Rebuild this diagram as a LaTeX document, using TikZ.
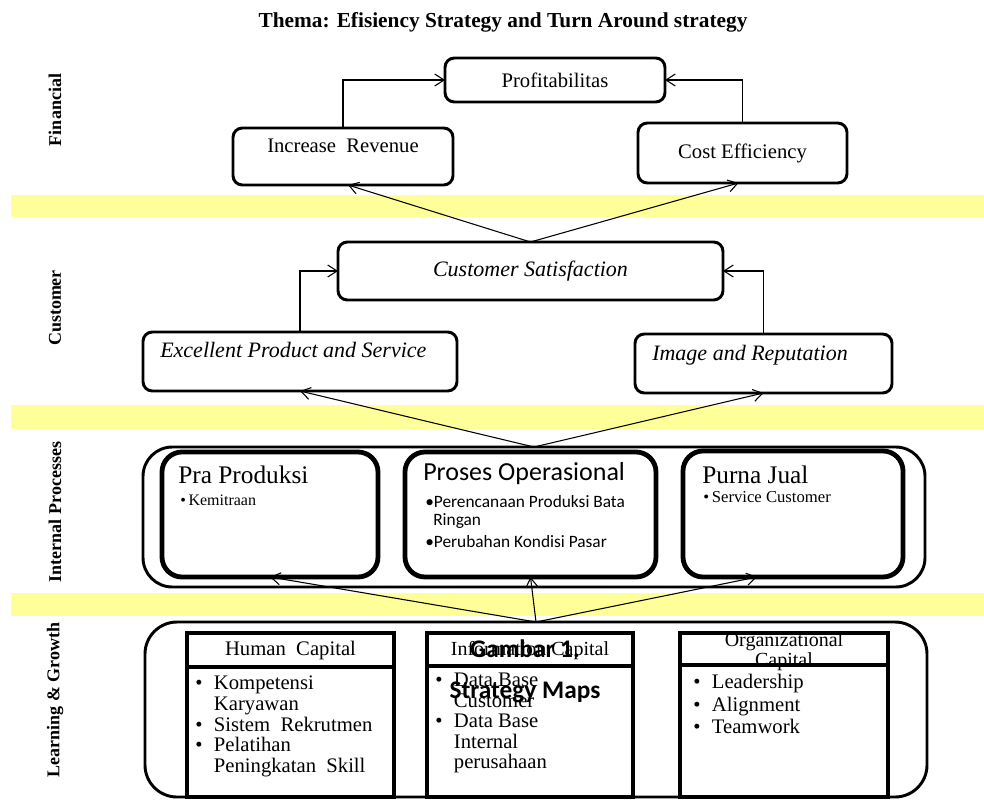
\documentclass[tikz,border=0pt]{standalone}
\usepackage{fontspec}
\setmainfont{Liberation Serif}
\newfontfamily\calibri{Carlito}
\usetikzlibrary{arrows.meta}
\definecolor{band}{RGB}{255,255,153}
\newlength\pxu
\setlength\pxu{0.75pt}
\newcommand\bul{\makebox[14pt][l]{\textbullet}}
\newcommand\cnt{\hspace*{14pt}}

\begin{document}
\begin{tikzpicture}[x=0.75pt, y=-0.75pt,
	>={Straight Barb[length=7pt,width=9pt]},
	link/.style={->, line width=0.8pt},
	goal/.style={draw, line width=2.2pt, rounded corners=7pt, fill=white, anchor=north west, inner sep=0pt, outer sep=0pt},
	proc/.style={draw, line width=3.6pt, rounded corners=15pt, fill=white, anchor=north west, inner sep=0pt, outer sep=0pt},
	frame/.style={draw, line width=2.2pt, anchor=north west, inner sep=0pt, outer sep=0pt},
	capbox/.style={draw, line width=2.4pt, fill=white, anchor=north west, inner sep=0pt, outer sep=0pt},
	capline/.style={line width=2.4pt},
	side/.style={rotate=90, font=\bfseries\fontsize{13.5}{16}\selectfont},
	fintxt/.style={font=\fontsize{15.5}{18}\selectfont},
	custxt/.style={font=\itshape\fontsize{16.5}{19}\selectfont},
	txt/.style={inner sep=0pt, anchor=base west}]
	\useasboundingbox (0,0) rectangle (984,799);
	\fill [white] (0,0) rectangle (984,799);
	\fill [band] (11,195) rectangle (984,217);
	\fill [band] (11,405) rectangle (984,429);
	\fill [band] (11,593) rectangle (984,616);

	\node [font=\bfseries\fontsize{16}{19}\selectfont, anchor=base] (title) at (503,28) {Thema: Efisiency Strategy and Turn Around strategy};
	\node [side] (fin-l) at (55,110) {Financial};
	\node [side] (cus-l) at (55,308) {Customer};
	\node [side] (int-l) at (55,512) {Internal Processes};
	\node [side] (lrn-l) at (55,700) {Learning \& Growth};

	% financial
	\node [goal, fintxt, minimum width=220\pxu, minimum height=44\pxu] (profit) at (445,58) {Profitabilitas};
	\node [goal, minimum width=220\pxu, minimum height=57\pxu] (revenue) at (233,128) {};
	\node [fintxt, anchor=base] (revenue-t) at (343,152) {Increase~~Revenue};
	\node [goal, fintxt, minimum width=209\pxu, minimum height=60\pxu] (cost) at (638,123) {Cost Efficiency};

	% customer
	\node [goal, custxt, minimum width=385\pxu, minimum height=58\pxu] (satisf) at (338,242) {Customer Satisfaction};
	\node [goal, minimum width=314\pxu, minimum height=59\pxu] (product) at (143,332) {};
	\node [txt, custxt] (product-t) at (160,357) {Excellent Product and Service};
	\node [goal, minimum width=257\pxu, minimum height=59\pxu] (image) at (635,334) {};
	\node [txt, custxt] (image-t) at (652,360) {Image and Reputation};

	% internal processes
	\node [frame, rounded corners=22pt, minimum width=782\pxu, minimum height=140\pxu] (internal) at (143,447) {};
	\node [proc, minimum width=216\pxu, minimum height=125\pxu] (pra) at (162,452) {};
	\node [proc, minimum width=251\pxu, minimum height=125\pxu] (proses) at (405,452) {};
	\node [proc, minimum width=220\pxu, minimum height=126\pxu] (purna) at (683,451) {};
	\node [txt, font=\fontsize{19}{22}\selectfont] (pra-t) at (178,483) {Pra Produksi};
	\node [txt, font=\fontsize{12}{14}\selectfont] (pra-b) at (180,505) {\textbullet\,Kemitraan};
	\node [txt, font=\calibri\fontsize{19.5}{22}\selectfont] (proses-t) at (423,480) {Proses Operasional};
	\node [inner sep=0pt, anchor=north west, align=left, font=\calibri\fontsize{13}{13.5}\selectfont] (proses-b) at (425,495)
		{\textbullet Perencanaan Produksi Bata\\\hspace*{6pt}Ringan\\[3pt]\textbullet Perubahan Kondisi Pasar};
	\node [txt, font=\fontsize{19}{22}\selectfont] (purna-t) at (702,483) {Purna Jual};
	\node [txt, font=\fontsize{12.5}{14}\selectfont] (purna-b) at (703,502) {\textbullet\,Service Customer};

	% learning and growth
	\node [frame, rounded corners=24pt, minimum width=782\pxu, minimum height=175\pxu] (learning) at (145,622) {};
	\node [capbox, minimum width=207\pxu, minimum height=164\pxu] (human) at (187,633) {};
	\node [capbox, minimum width=206\pxu, minimum height=164\pxu] (info) at (427,633) {};
	\node [capbox, minimum width=208\pxu, minimum height=164\pxu] (org) at (680,633) {};
	\node [font=\fontsize{15.5}{18}\selectfont, anchor=base] (human-h) at (290.5,655) {Human~~Capital};
	\node [font=\fontsize{15}{18}\selectfont, anchor=base] (info-h) at (530,655) {Information Capital};
	\node [font=\fontsize{15}{15}\selectfont, anchor=north, align=center, inner sep=0pt] (org-h) at (784,632) {Organizational\\Capital};
	\draw [capline] ([yshift=-34\pxu]human.north west) -- ([yshift=-34\pxu]human.north east);
	\draw [capline] ([yshift=-33\pxu]info.north west) -- ([yshift=-33\pxu]info.north east);
	\draw [capline] ([yshift=-32\pxu]org.north west) -- ([yshift=-32\pxu]org.north east);
	\node [inner sep=0pt, anchor=north west, align=left, font=\fontsize{15.5}{15.5}\selectfont] (human-b) at (195,676)
		{\bul Kompetensi\\\cnt Karyawan\\\bul Sistem~~Rekrutmen\\\bul Pelatihan\\\cnt Peningkatan~~Skill};
	\node [inner sep=0pt, anchor=north west, align=left, font=\fontsize{15.5}{15.3}\selectfont] (info-b) at (435,673)
		{\bul Data Base\\\cnt Customer\\\bul Data Base\\\cnt Internal\\\cnt perusahaan};
	\node [inner sep=0pt, anchor=north west, align=left, font=\fontsize{15.5}{16.9}\selectfont] (org-b) at (693,674)
		{\bul Leadership\\\bul Alignment\\\bul Teamwork};
	\node [anchor=north, align=center, inner sep=0pt, font=\calibri\bfseries\fontsize{19}{30.75}\selectfont] (caption) at (525,639) {Gambar 1.\\Strategy Maps};

	% links
	\draw [link] (revenue.north) |- (profit.west);
	\draw [link] (cost.north) |- (profit.east);
	\draw [link] (satisf.north) -- ([xshift=5\pxu]revenue.south);
	\draw [link] (satisf.north) -- ([xshift=-4\pxu]cost.south);
	\draw [link] (product.north) |- (satisf.west);
	\draw [link] (image.north) |- (satisf.east);
	\draw [link] (internal.north) -- (product.south);
	\draw [link] (internal.north) -- (image.south);
	\draw [link] (learning.north) -- (pra.south);
	\draw [link] (learning.north) -- (proses.south);
	\draw [link] (learning.north) -- ([xshift=-36\pxu]purna.south);
\end{tikzpicture}
\end{document}
